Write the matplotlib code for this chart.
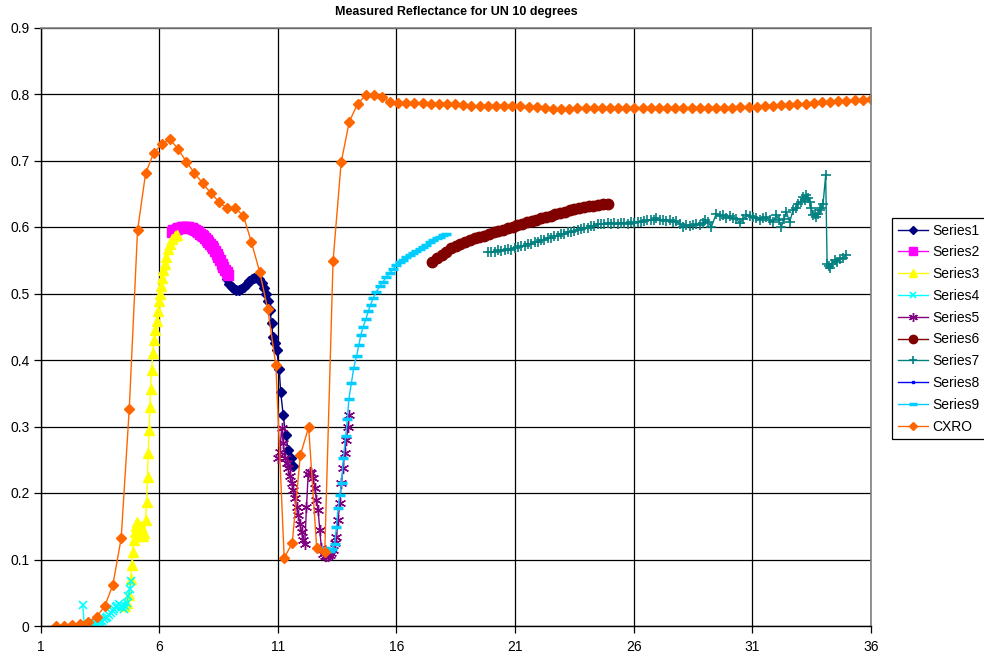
import matplotlib
matplotlib.use("Agg")
import matplotlib.pyplot as plt

plt.rcParams['font.family'] = ['Liberation Sans', 'DejaVu Sans']

# ---------------- data ----------------
s1_x = [8.84, 8.95, 9.05, 9.16, 9.26, 9.37, 9.47, 9.58, 9.69, 9.80, 9.90, 10.00, 10.11, 10.21, 10.32,
        10.42, 10.50, 10.60, 10.67, 10.74, 10.80, 10.88, 10.95, 11.06, 11.12, 11.23, 11.33, 11.44, 11.54, 11.65]
s1_y = [0.522, 0.515, 0.510, 0.507, 0.505, 0.505, 0.507, 0.510, 0.514, 0.519, 0.522, 0.524, 0.524, 0.522, 0.516,
        0.508, 0.500, 0.488, 0.475, 0.455, 0.435, 0.425, 0.415, 0.387, 0.352, 0.317, 0.287, 0.265, 0.252, 0.240]

s2_x = [6.53, 6.60, 6.67, 6.74, 6.81, 6.88, 6.95, 7.02, 7.09, 7.16, 7.23, 7.30, 7.37, 7.44, 7.51, 7.58,
        7.65, 7.72, 7.79, 7.86, 7.93, 8.00, 8.07, 8.14, 8.21, 8.28, 8.35, 8.42, 8.49, 8.56, 8.63, 8.70,
        8.77, 8.84, 8.91]
s2_y = [0.593, 0.595, 0.596, 0.597, 0.598, 0.599, 0.600, 0.600, 0.600, 0.600, 0.600, 0.599, 0.598, 0.597,
        0.595, 0.594, 0.592, 0.590, 0.588, 0.586, 0.584, 0.581, 0.578, 0.575, 0.572, 0.568, 0.564, 0.560,
        0.555, 0.550, 0.545, 0.540, 0.536, 0.532, 0.528]

s3_x = [4.55, 4.65, 4.74, 4.80, 4.84, 4.88, 4.92, 4.97, 5.02, 5.07, 5.12, 5.17, 5.22, 5.27, 5.32, 5.38,
        5.43, 5.47, 5.51, 5.54, 5.58, 5.61, 5.64, 5.68, 5.73, 5.78, 5.84, 5.89, 5.95, 6.00, 6.05, 6.09,
        6.13, 6.18, 6.24, 6.31, 6.38, 6.45, 6.55, 6.65, 6.76]
s3_y = [0.030, 0.035, 0.047, 0.070, 0.091, 0.112, 0.129, 0.142, 0.150, 0.156, 0.140, 0.135, 0.150, 0.145,
        0.135, 0.140, 0.159, 0.187, 0.224, 0.260, 0.295, 0.330, 0.357, 0.385, 0.410, 0.430, 0.445, 0.458,
        0.473, 0.488, 0.500, 0.512, 0.523, 0.535, 0.545, 0.555, 0.567, 0.575, 0.582, 0.586, 0.588]

s4_x = [2.78, 2.85, 2.92, 3.00, 3.08, 3.15, 3.22, 3.30, 3.38, 3.45, 3.52, 3.60, 3.68, 3.75, 3.82, 3.90,
        3.97, 4.04, 4.10, 4.17, 4.24, 4.31, 4.38, 4.45, 4.52, 4.58, 4.64, 4.70, 4.76, 4.82]
s4_y = [0.032, 0.000, 0.001, 0.001, 0.002, 0.003, 0.003, 0.004, 0.005, 0.006, 0.007, 0.008, 0.010, 0.012,
        0.014, 0.016, 0.019, 0.022, 0.025, 0.028, 0.030, 0.033, 0.030, 0.028, 0.026, 0.030, 0.035, 0.045,
        0.055, 0.068]

s5_x = [11.02, 11.09, 11.16, 11.23, 11.30, 11.37, 11.44, 11.51, 11.58, 11.65, 11.72, 11.79, 11.86, 11.93,
        12.00, 12.07, 12.14, 12.21, 12.28, 12.35, 12.42, 12.49, 12.56, 12.63, 12.70, 12.77, 12.84, 12.91,
        12.98, 13.05, 13.12, 13.19, 13.26, 13.33, 13.40, 13.47, 13.54, 13.61, 13.68, 13.75, 13.82, 13.89,
        13.96, 14.02]
s5_y = [0.252, 0.262, 0.297, 0.275, 0.252, 0.245, 0.237, 0.225, 0.215, 0.205, 0.192, 0.179, 0.167, 0.154,
        0.142, 0.129, 0.124, 0.179, 0.228, 0.232, 0.230, 0.222, 0.207, 0.190, 0.174, 0.144, 0.117, 0.108,
        0.106, 0.106, 0.105, 0.107, 0.110, 0.114, 0.125, 0.134, 0.159, 0.185, 0.215, 0.237, 0.260, 0.280,
        0.300, 0.317]

s6_x = [17.50, 17.70, 17.90, 18.10, 18.30, 18.50, 18.70, 18.90, 19.10, 19.30, 19.50, 19.70, 19.90, 20.10,
        20.30, 20.50, 20.70, 20.90, 21.10, 21.30, 21.50, 21.70, 21.90, 22.10, 22.30, 22.50, 22.70, 22.90,
        23.10, 23.30, 23.50, 23.70, 23.90, 24.10, 24.30, 24.50, 24.70, 24.90]
s6_y = [0.548, 0.553, 0.558, 0.563, 0.568, 0.572, 0.575, 0.578, 0.581, 0.583, 0.585, 0.587, 0.589, 0.592,
        0.594, 0.596, 0.598, 0.600, 0.603, 0.605, 0.607, 0.609, 0.611, 0.613, 0.615, 0.617, 0.619, 0.621,
        0.623, 0.625, 0.627, 0.629, 0.630, 0.631, 0.632, 0.633, 0.634, 0.634]

s7_x = [19.86, 20.00, 20.14, 20.28, 20.42, 20.56, 20.70, 20.84, 20.98, 21.12, 21.26, 21.40, 21.54, 21.68,
        21.82, 21.96, 22.10, 22.24, 22.38, 22.52, 22.66, 22.80, 22.94, 23.08, 23.22, 23.36, 23.50, 23.64,
        23.78, 23.92, 24.06, 24.20, 24.34, 24.48, 24.62, 24.76, 24.90, 25.04, 25.18, 25.32, 25.46, 25.60,
        25.74, 25.88, 26.02, 26.16, 26.30, 26.44, 26.58, 26.72, 26.86, 26.96, 27.10, 27.24, 27.38, 27.52,
        27.66, 27.80, 27.94, 28.08, 28.22, 28.36, 28.50, 28.64, 28.78, 28.92, 28.99, 29.13, 29.27, 29.48,
        29.62, 29.76, 29.90, 30.04, 30.19, 30.33, 30.47, 30.61, 30.75, 30.89, 31.03, 31.17, 31.31, 31.45,
        31.59, 31.73, 31.87, 32.01, 32.12, 32.22, 32.33, 32.43, 32.57, 32.71, 32.82, 32.92, 33.03, 33.13,
        33.20, 33.27, 33.34, 33.42, 33.49, 33.56, 33.63, 33.70, 33.77, 33.84, 33.91, 33.98, 34.09, 34.15,
        34.22, 34.29, 34.36, 34.47, 34.57, 34.68, 34.82, 34.96]
s7_y = [0.562, 0.563, 0.563, 0.565, 0.564, 0.566, 0.567, 0.566, 0.569, 0.570, 0.571, 0.572, 0.574, 0.575,
        0.577, 0.578, 0.580, 0.581, 0.583, 0.584, 0.586, 0.587, 0.589, 0.590, 0.592, 0.593, 0.594, 0.596,
        0.597, 0.598, 0.599, 0.601, 0.602, 0.604, 0.605, 0.604, 0.606, 0.605, 0.606, 0.604, 0.606, 0.606,
        0.605, 0.607, 0.606, 0.608, 0.607, 0.609, 0.610, 0.611, 0.610, 0.613, 0.610, 0.611, 0.609, 0.610,
        0.608, 0.609, 0.605, 0.600, 0.603, 0.602, 0.603, 0.604, 0.603, 0.606, 0.611, 0.608, 0.600, 0.620,
        0.616, 0.618, 0.614, 0.616, 0.613, 0.612, 0.606, 0.612, 0.618, 0.616, 0.615, 0.613, 0.611, 0.613,
        0.615, 0.611, 0.607, 0.618, 0.610, 0.600, 0.612, 0.623, 0.607, 0.625, 0.628, 0.635, 0.638, 0.645,
        0.640, 0.648, 0.644, 0.638, 0.628, 0.618, 0.620, 0.615, 0.620, 0.625, 0.628, 0.635, 0.678, 0.545,
        0.542, 0.538, 0.545, 0.550, 0.548, 0.552, 0.553, 0.558]

s8_x = []
s8_y = []

s9_x = [13.00, 13.10, 13.20, 13.30, 13.40, 13.47, 13.54, 13.61, 13.69, 13.76, 13.86, 13.93, 14.00, 14.10,
        14.20, 14.32, 14.42, 14.50, 14.60, 14.71, 14.81, 14.91, 15.02, 15.16, 15.30, 15.44, 15.58, 15.72,
        15.86, 16.00, 16.14, 16.28, 16.42, 16.56, 16.70, 16.84, 16.98, 17.12, 17.26, 17.40, 17.55, 17.69,
        17.83, 17.97, 18.11]
s9_y = [0.117, 0.113, 0.113, 0.116, 0.124, 0.149, 0.177, 0.197, 0.215, 0.252, 0.285, 0.312, 0.342, 0.365,
        0.388, 0.406, 0.423, 0.438, 0.450, 0.461, 0.473, 0.483, 0.493, 0.503, 0.511, 0.518, 0.525, 0.531,
        0.537, 0.543, 0.547, 0.551, 0.555, 0.558, 0.561, 0.564, 0.567, 0.570, 0.573, 0.577, 0.580, 0.583,
        0.585, 0.588, 0.590]

cxro_x = [1.65, 1.99, 2.34, 2.68, 3.02, 3.37, 3.71, 4.05, 4.40, 4.74, 5.09, 5.43, 5.77, 6.12, 6.46, 6.80,
          7.15, 7.49, 7.83, 8.18, 8.52, 8.86, 9.21, 9.55, 9.89, 10.24, 10.58, 10.92, 11.27, 11.61, 11.95,
          12.30, 12.64, 12.98, 13.33, 13.67, 14.01, 14.36, 14.70, 15.04, 15.39, 15.73, 16.07, 16.42, 16.76,
          17.10, 17.45, 17.79, 18.13, 18.48, 18.82, 19.16, 19.51, 19.85, 20.19, 20.54, 20.88, 21.22, 21.57,
          21.91, 22.26, 22.60, 22.94, 23.29, 23.63, 23.97, 24.32, 24.66, 25.00, 25.35, 25.69, 26.03, 26.38,
          26.72, 27.06, 27.41, 27.75, 28.09, 28.44, 28.78, 29.12, 29.47, 29.81, 30.15, 30.50, 30.84, 31.18,
          31.53, 31.87, 32.21, 32.56, 32.90, 33.25, 33.59, 33.93, 34.28, 34.62, 34.96, 35.31, 35.65, 36.00]
cxro_y = [0.000, 0.000, 0.001, 0.003, 0.006, 0.014, 0.030, 0.062, 0.132, 0.326, 0.595, 0.681, 0.711, 0.725,
          0.732, 0.717, 0.698, 0.681, 0.666, 0.651, 0.638, 0.628, 0.628, 0.617, 0.577, 0.532, 0.476, 0.392,
          0.102, 0.125, 0.257, 0.299, 0.118, 0.112, 0.549, 0.697, 0.758, 0.785, 0.798, 0.798, 0.795, 0.788,
          0.786, 0.786, 0.786, 0.786, 0.7855, 0.785, 0.785, 0.7845, 0.7835, 0.7825, 0.782, 0.782, 0.782,
          0.782, 0.7815, 0.7815, 0.7805, 0.780, 0.7789, 0.7774, 0.7774, 0.7779, 0.7784, 0.7789, 0.7794,
          0.7794, 0.7794, 0.7794, 0.7794, 0.7794, 0.7794, 0.7794, 0.7794, 0.7794, 0.7794, 0.7794, 0.7794,
          0.7794, 0.7794, 0.7794, 0.7794, 0.7794, 0.780, 0.7805, 0.781, 0.7815, 0.7825, 0.783, 0.7835,
          0.7845, 0.7855, 0.786, 0.7875, 0.7885, 0.7895, 0.790, 0.791, 0.7915, 0.7925]

series = [
    ("Series1", s1_x, s1_y, "#000080", "D", 5.2, 1.0),
    ("Series2", s2_x, s2_y, "#FF00FF", "s", 6.5, 1.0),
    ("Series3", s3_x, s3_y, "#FFFF00", "^", 7, 1.0),
    ("Series4", s4_x, s4_y, "#00FFFF", "x", 6, 1.2),
    ("Series5", s5_x, s5_y, "#800080", (6, 2, 0), 8, 1.0),
    ("Series6", s6_x, s6_y, "#800000", "o", 7.5, 1.0),
    ("Series7", s7_x, s7_y, "#008080", "+", 7, 1.2),
    ("Series8", s8_x, s8_y, "#0000FF", "s", 2.5, 1.0),
    ("Series9", s9_x, s9_y, "#00CCFF", "_", 7, 2.5),
    ("CXRO", cxro_x, cxro_y, "#FF6600", "D", 5.5, 1.0),
]

fig = plt.figure(figsize=(9.84, 6.58), dpi=100)
ax = fig.add_axes([40.5 / 984, 1 - 626 / 658, (871 - 40.5) / 984, (626 - 27.5) / 658])

for name, xs, ys, col, mk, ms, mew in series:
    ax.plot(xs, ys, color=col, lw=1.0, marker=mk, ms=ms, mec=col, mfc=col, mew=mew, label=name)

ax.set_xlim(1, 36)
ax.set_ylim(0, 0.9)
ax.set_xticks([1, 6, 11, 16, 21, 26, 31, 36])
yt = [0, 0.1, 0.2, 0.3, 0.4, 0.5, 0.6, 0.7, 0.8, 0.9]
ax.set_yticks(yt)
ax.set_yticklabels(["0", "0.1", "0.2", "0.3", "0.4", "0.5", "0.6", "0.7", "0.8", "0.9"])
ax.grid(True, color="black", lw=0.9)
ax.set_axisbelow(True)
ax.tick_params(axis="both", direction="out", length=5, width=0.9, labelsize=10, colors="black")
ax.tick_params(axis="y", pad=3)
ax.tick_params(axis="x", pad=5)
for side in ["left", "bottom"]:
    ax.spines[side].set_color("black")
    ax.spines[side].set_linewidth(1.0)
for side in ["top", "right"]:
    ax.spines[side].set_color("#808080")
    ax.spines[side].set_linewidth(1.2)

fig.text(456 / 984, 1 - 12 / 658, "Measured Reflectance for UN 10 degrees",
         ha="center", va="center", fontsize=9, fontweight="bold")

leg = ax.legend(loc="upper left", bbox_to_anchor=(892 / 984, 1 - 218 / 658),
                bbox_transform=fig.transFigure, borderaxespad=0, fontsize=10,
                frameon=True, fancybox=False, edgecolor="black", framealpha=1,
                handlelength=2.2, labelspacing=0.56, handletextpad=0.3,
                borderpad=0.4, markerscale=0.8)
leg.get_frame().set_linewidth(0.9)

fig.savefig("out.png", dpi=100)
